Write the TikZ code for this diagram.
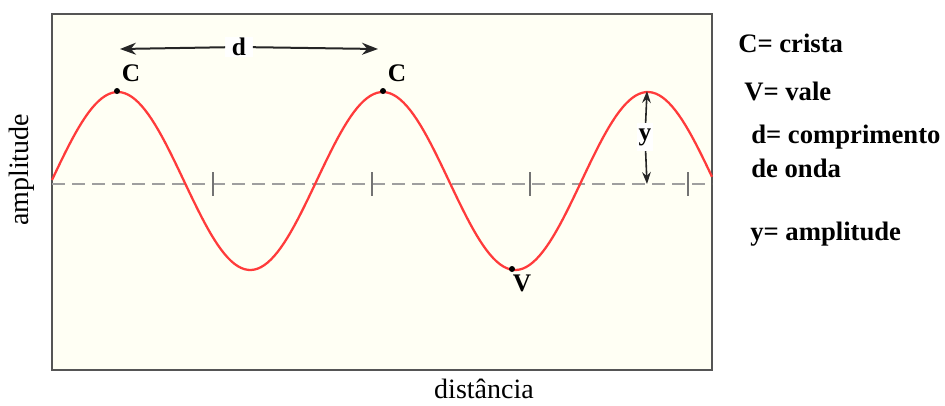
\documentclass[tikz,border=0pt]{standalone}
\usepackage{fontspec}
\setmainfont{Liberation Serif}
\usetikzlibrary{arrows.meta}
\definecolor{cream}{HTML}{FFFFF4}
\definecolor{frame}{HTML}{555555}
\definecolor{wave}{HTML}{FF3B3B}
\tikzset{
  dot/.style={circle,fill=black,inner sep=0pt,minimum size=4.5pt},
  tag/.style={font=\bfseries\fontsize{19}{22}\selectfont,inner sep=1pt},
  legend/.style={font=\bfseries\fontsize{20}{23}\selectfont,anchor=west,inner sep=0pt},
  axislabel/.style={font=\fontsize{21}{24}\selectfont,inner sep=0pt},
  dimarrow/.style={black!85,line width=1.5pt,-{Stealth[length=12pt,width=9pt]}}
}
\begin{document}
\begin{tikzpicture}[x=0.75pt,y=-0.75pt]
  \useasboundingbox (0,0) rectangle (945,405);
  % frame
  \draw[frame,line width=2pt,fill=cream] (52,14) rectangle (712,370);
  % zero line and ticks
  \draw[gray!75,line width=2pt,dash pattern=on 9.5pt off 5.5pt] (52,184) -- (712,184);
  \foreach \t in {213,372,530,688}{\draw[gray!90!black,line width=1.1pt] (\t,172) -- (\t,196);}
  % wave (period 265px)
  \draw[wave,line width=1.7pt] plot[domain=52:712,samples=200]
    (\x,{181-89*sin(1.35849*(\x-51.5))});
  % crest and trough points
  \node[dot] (crest1) at (117,91) {};
  \node[dot] (crest2) at (383,91) {};
  \node[dot] (trough) at (512,269) {};
  \node[tag] (crest1lab) at (131,73) {C};
  \node[tag] (crest2lab) at (397,73) {C};
  \node[tag] (troughlab) at (522,283) {V};
  % wavelength
  \coordinate (dleft) at (120,49);
  \coordinate (dright) at (378,49);
  \node[tag,fill=white,inner xsep=5pt] (dlab) at (239,47) {d};
  \draw[dimarrow] (dlab) -- (dleft);
  \draw[dimarrow] (dlab) -- (dright);
  % amplitude
  \coordinate (ytop) at (647,91);
  \coordinate (ybot) at (647,184);
  \node[tag,fill=white,inner ysep=4pt] (ylab) at (645,137) {y};
  \draw[dimarrow,line width=1.2pt,-{Stealth[length=9pt,width=6.5pt]}] (ylab) -- (ytop);
  \draw[dimarrow,line width=1.2pt,-{Stealth[length=9pt,width=6.5pt]}] (ylab) -- (ybot);
  % axis labels
  \node[axislabel,rotate=90] (ampl) at (22,170) {amplitude};
  \node[axislabel,anchor=base] (dist) at (484,398) {distância};
  % legend
  \node[legend] (leg1) at (738,43) {C= crista};
  \node[legend] (leg2) at (744,91) {V= vale};
  \node[legend] (leg3) at (751,137) {d= comprimento};
  \node[legend] (leg4) at (751,168) {de onda};
  \node[legend] (leg5) at (750,234) {y= amplitude};
\end{tikzpicture}
\end{document}
